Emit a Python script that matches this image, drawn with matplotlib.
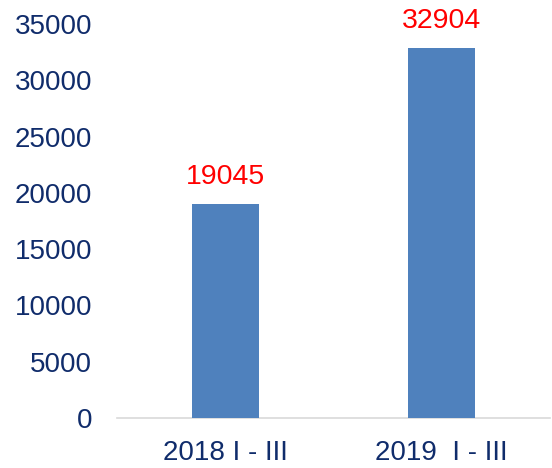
import matplotlib
matplotlib.use("Agg")
import matplotlib.pyplot as plt

categories = ["2018 I - III", "2019  I - III"]
values = [19045, 32904]
yticks = [0, 5000, 10000, 15000, 20000, 25000, 30000, 35000]

plt.rcParams['font.family'] = ['Liberation Sans', 'DejaVu Sans']
navy = '#102C6B'

fig = plt.figure(figsize=(5.52, 4.68), dpi=100)
ax = fig.add_axes([117/552, 1 - 418/468, (550 - 117)/552, (418 - 24)/468])
x = list(range(len(categories)))
bars = ax.bar(x, values, width=0.31, color='#4F81BD', zorder=3)
for xi, v in zip(x, values):
    ax.annotate(str(v), (xi, v), xytext=(0, 10), textcoords='offset points',
                ha='center', va='bottom', color='#FF0000', fontsize=20.5)
ax.set_xlim(-0.5, len(categories) - 0.5)
ax.set_ylim(0, 35000)
ax.set_yticks(yticks)
ax.set_yticklabels([str(t) for t in yticks])
ax.set_xticks(x)
ax.set_xticklabels(categories)
ax.tick_params(axis='y', length=0, pad=18, labelsize=20, labelcolor=navy)
ax.tick_params(axis='x', length=0, pad=16, labelsize=20, labelcolor=navy)
for s in ['top', 'right', 'left']:
    ax.spines[s].set_visible(False)
ax.spines['bottom'].set_color('#D9D9D9')
ax.spines['bottom'].set_linewidth(1.2)
fig.savefig('out.png', dpi=100)
